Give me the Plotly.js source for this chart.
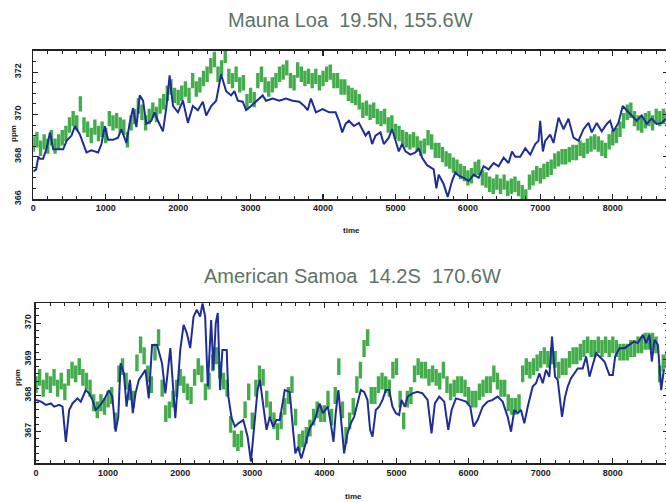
<!DOCTYPE html>
<html>
<head>
<meta charset="utf-8">
<script src="https://cdn.plot.ly/plotly-3.0.1.min.js"></script>
<style>
html,body{margin:0;padding:0;overflow:hidden;background:#fff;}
#chart{width:672px;height:502px;}
</style>
</head>
<body>
<div id="chart"></div>
<script>
// ---------- DATA ----------
const titleTop = "Mauna Loa  19.5N, 155.6W";
const titleBottom = "American Samoa  14.2S  170.6W";
const xTickVals = [0, 1000, 2000, 3000, 4000, 5000, 6000, 7000, 8000];
const yTickValsTop = [366, 368, 370, 372];
const yTickValsBottom = [367, 368, 369, 370];

// Mauna Loa - blue line (model)
const mlBlueT = [0,40,69,92,135,184,230,275,413,459,528,574,643,689,734,803,895,941,987,1033,1102,1170,1216,1285,1331,1377,1423,1469,1515,1561,1629,1675,1721,1790,1836,1882,1928,1997,2066,2134,2203,2272,2341,2387,2456,2525,2593,2662,2731,2777,2823,2892,2938,3006,3075,3167,3213,3305,3397,3488,3580,3672,3741,3787,3833,3902,3993,4085,4173,4219,4265,4311,4357,4426,4495,4541,4587,4632,4678,4724,4793,4839,4908,4954,5000,5046,5092,5138,5207,5276,5322,5368,5436,5482,5528,5565,5597,5666,5721,5781,5827,5873,5942,6011,6080,6149,6217,6286,6355,6424,6493,6562,6608,6654,6723,6792,6861,6930,6975,6998,7035,7067,7136,7182,7251,7320,7389,7458,7527,7596,7665,7710,7779,7848,7917,7963,8009,8078,8138,8193,8262,8331,8400,8469,8537,8606,8675,8735];
const mlBlueV = [367.3,367.4,368.0,367.9,367.9,368.4,369.15,368.35,368.35,368.75,369.0,369.45,369.05,368.6,368.2,368.3,368.2,368.6,369.45,368.8,368.8,368.9,369.3,368.65,369.6,370.3,369.4,370.9,370.65,369.55,369.7,370.1,369.7,369.2,370.3,371.85,370.4,370.1,370.65,369.6,370.4,370.2,370.6,369.95,370.4,370.65,371.9,371.1,370.9,371.1,370.65,370.6,370.2,370.4,370.6,370.9,370.65,370.75,370.65,370.75,370.65,370.6,370.4,370.2,370.75,370.1,370.25,370.1,370.1,369.7,369.15,369.55,369.7,369.45,369.6,369.3,369.0,369.2,368.6,369.0,369.15,368.6,368.9,369.3,368.75,368.25,368.6,368.25,368.1,368.2,368.4,367.95,367.6,367.5,367.4,366.5,367.15,366.7,366.1,366.85,367.25,367.1,367.0,366.85,367.15,367.0,367.55,367.4,367.7,367.55,367.95,367.7,368.25,368.0,368.0,368.4,368.1,368.6,368.75,369.7,368.25,368.75,369.05,368.65,369.85,369.3,369.8,368.9,368.75,369.3,369.6,369.15,369.6,369.2,369.55,369.7,369.2,369.6,370.4,370.2,369.95,369.7,369.95,369.55,369.8,369.55,369.6,369.8];

// Mauna Loa - green points (observations), every 50 h from 0
const mlGreenT = [0,50,100,150,200,250,300,350,400,450,500,550,600,650,700,750,800,850,900,950,1000,1050,1100,1150,1200,1250,1300,1350,1400,1450,1500,1550,1600,1650,1700,1750,1800,1850,1900,1950,2000,2050,2100,2150,2200,2250,2300,2350,2400,2450,2500,2550,2600,2650,2700,2750,2800,2850,2900,2950,3000,3050,3100,3150,3200,3250,3300,3350,3400,3450,3500,3550,3600,3650,3700,3750,3800,3850,3900,3950,4000,4050,4100,4150,4200,4250,4300,4350,4400,4450,4500,4550,4600,4650,4700,4750,4800,4850,4900,4950,5000,5050,5100,5150,5200,5250,5300,5350,5400,5450,5500,5550,5600,5650,5700,5750,5800,5850,5900,5950,6000,6050,6100,6150,6200,6250,6300,6350,6400,6450,6500,6550,6600,6650,6700,6750,6800,6850,6900,6950,7000,7050,7100,7150,7200,7250,7300,7350,7400,7450,7500,7550,7600,7650,7700,7750,7800,7850,7900,7950,8000,8050,8100,8150,8200,8250,8300,8350,8400,8450,8500,8550,8600,8650,8700,8750];
const mlGreenV = [368.6,368.8,368.4,368.7,368.5,368.9,368.5,368.7,368.9,369.1,369.5,369.8,369.6,370.5,369.5,369.3,369.0,369.4,369.1,369.3,369.0,369.8,369.6,369.7,369.5,369.4,368.8,369.6,369.9,370.4,370.1,369.6,369.9,370.2,370.0,370.4,370.6,371.0,371.3,370.9,370.8,371.0,371.2,370.9,371.6,371.2,371.4,371.7,371.9,372.3,372.6,371.9,372.2,372.8,371.8,371.6,371.9,371.4,371.5,370.6,370.9,370.7,371.6,371.9,371.4,371.2,371.4,371.6,371.9,372.0,372.2,371.6,371.5,372.1,371.9,371.7,371.8,371.6,371.8,371.5,371.7,371.9,372.0,371.6,371.6,371.3,371.3,371.0,370.9,370.8,370.6,370.2,370.3,370.1,370.2,369.9,369.8,369.9,369.5,369.6,369.2,369.1,368.9,368.8,368.7,368.8,368.6,368.4,368.5,368.9,368.7,368.3,368.3,368.1,367.9,367.8,367.6,367.5,367.3,367.2,367.0,367.1,367.4,367.5,367.0,366.9,366.7,366.6,366.8,366.6,366.8,366.5,366.6,366.7,366.5,366.3,366.1,366.8,367.0,367.2,367.1,367.3,367.4,367.5,367.8,367.9,368.0,368.0,368.1,368.2,368.2,368.4,368.3,368.5,368.6,368.7,368.6,368.4,368.3,368.7,368.9,369.0,369.3,369.7,370.1,370.2,369.8,369.6,369.5,369.7,369.8,369.6,369.9,369.8,369.9,369.8];

// American Samoa - blue line (model)
const smBlueT = [0,69,138,207,253,322,368,414,460,506,575,621,690,736,782,828,874,943,1012,1058,1104,1141,1173,1219,1256,1302,1343,1380,1426,1472,1518,1564,1610,1679,1748,1794,1863,1932,2001,2047,2093,2139,2185,2231,2277,2309,2346,2383,2429,2461,2493,2521,2553,2585,2645,2668,2714,2760,2806,2875,2935,2981,3027,3073,3105,3151,3197,3243,3289,3335,3381,3450,3519,3565,3597,3634,3680,3726,3795,3864,3933,3979,4048,4088,4126,4157,4194,4236,4273,4320,4366,4412,4458,4505,4551,4597,4634,4667,4713,4759,4806,4852,4898,4944,4991,5037,5069,5116,5153,5222,5292,5361,5431,5486,5532,5593,5662,5718,5764,5824,5894,5963,6023,6070,6125,6195,6264,6333,6403,6472,6542,6588,6634,6681,6727,6773,6820,6889,6935,6981,7028,7074,7120,7157,7199,7236,7268,7296,7338,7375,7421,7467,7514,7583,7630,7676,7722,7768,7814,7884,7953,8000,8033,8093,8162,8232,8292,8347,8417,8463,8509,8541,8579,8625,8671,8708];
const smBlueV = [367.88,367.83,367.74,367.78,367.69,367.74,367.69,366.72,367.6,367.78,367.92,367.83,368.15,368.06,367.88,367.6,367.69,367.88,368.15,367.97,367.0,367.41,368.89,368.61,367.69,368.43,367.51,368.06,368.43,368.57,368.71,367.92,369.4,369.4,368.89,368.06,369.31,367.37,369.26,369.95,369.72,369.31,370.18,370.37,370.18,370.55,370.18,368.25,370.09,368.71,370.0,370.28,368.15,369.26,369.26,367.97,367.37,367.14,367.23,367.32,366.86,366.17,367.23,368.15,368.43,367.69,367.05,367.41,367.14,367.32,367.32,368.15,368.1,367.05,366.4,366.58,366.26,366.58,367.09,367.32,367.78,367.51,367.69,367.23,366.72,367.51,368.15,367.23,366.4,366.95,367.23,367.41,367.78,368.15,368.1,367.88,367.05,366.86,367.6,367.69,367.88,368.15,368.15,367.69,367.51,367.46,367.88,367.69,367.97,368.06,368.1,368.06,367.88,366.95,367.78,367.97,367.83,367.05,367.6,367.92,367.88,367.83,367.69,367.14,367.32,367.69,367.83,367.88,367.97,367.83,367.41,367.0,367.6,367.51,367.6,367.23,367.69,368.25,368.34,368.61,368.34,368.71,368.52,369.63,368.52,368.43,367.88,367.41,367.97,368.25,368.48,368.61,368.75,368.75,369.08,368.52,368.85,369.17,369.08,368.94,368.57,368.57,369.08,369.31,369.31,369.4,369.49,369.45,369.68,369.45,369.68,368.94,369.54,369.4,368.15,368.71];

// American Samoa - green points (observations), every 50 h from 0
const smGreenT = mlGreenT;
const smGreenV = [368.3,368.5,368.2,368.4,368.3,368.5,368.2,368.4,368.1,368.5,368.7,368.6,368.8,368.5,368.4,368.2,367.8,367.6,367.8,367.7,367.9,368.0,367.3,368.6,368.8,368.4,368.1,367.9,368.9,369.4,369.1,368.6,368.3,369.2,369.6,368.2,367.5,367.6,367.9,368.2,368.5,368.3,368.1,368.0,368.5,368.8,368.6,368.1,368.4,368.9,369.1,368.7,368.4,368.2,367.2,366.8,366.7,366.8,367.6,368.1,367.3,368.2,368.6,368.5,367.9,367.6,367.3,367.0,367.3,367.7,368.0,368.3,367.4,366.7,366.8,366.9,367.1,367.4,367.6,367.5,367.5,367.9,367.4,368.0,368.8,367.6,366.9,367.3,367.7,368.3,368.7,369.3,369.6,368.0,368.0,368.3,368.4,368.3,368.2,368.7,368.8,367.9,367.3,367.9,368.0,368.6,368.8,368.7,368.7,368.5,368.6,368.5,368.4,368.7,368.3,368.1,368.2,368.3,368.3,368.2,368.0,367.9,367.9,368.1,368.2,368.3,368.3,368.6,368.4,368.2,368.2,367.8,367.7,367.7,367.8,368.6,368.8,368.7,368.8,368.9,369.0,369.1,369.0,369.1,369.0,368.7,368.8,368.8,369.0,369.1,369.1,369.2,369.3,369.4,369.3,369.3,369.4,369.3,369.4,369.3,369.4,369.3,369.2,369.2,369.2,369.3,369.3,369.4,369.4,369.5,369.5,369.5,369.4,368.6,368.9,369.0];

// ---------- STYLE ----------
const BLUE = "#1f2d96";
const GREEN = "#43ad4c";
const TXT = "#1a1a1a";
const TITLE_COL = "#5c7467";
const W = 672, H = 502;
const px = v => v / W;
const py = v => 1 - v / H;
const tickFont = {family: "Liberation Sans Narrow, Liberation Sans, Arial, sans-serif", size: 9, color: TXT, weight: "bold"};

function greenTrace(t, v, xa, ya, sz) {
  return {x: t, y: v, xaxis: xa, yaxis: ya, type: "scatter", mode: "markers",
    marker: {symbol: "line-ns-open", size: sz, color: GREEN, line: {color: GREEN, width: 3.4}},
    hoverinfo: "skip", showlegend: false};
}
function blueTrace(t, v, xa, ya) {
  return {x: t, y: v, xaxis: xa, yaxis: ya, type: "scatter", mode: "lines",
    line: {color: BLUE, width: 2}, hoverinfo: "skip", showlegend: false};
}

const data = [
  greenTrace(mlGreenT, mlGreenV, "x", "y", 11),
  blueTrace(mlBlueT, mlBlueV, "x", "y"),
  greenTrace(smGreenT, smGreenV, "x2", "y2", 12),
  blueTrace(smBlueT, smBlueV, "x2", "y2")
];

function xAxis(domain, anchor) {
  return {domain: domain, anchor: anchor, range: [0, 8760], tickvals: xTickVals,
    ticktext: xTickVals.map(String), ticks: "inside", ticklen: 5, tickwidth: 1.2, tickcolor: "#222",
    minor: {dtick: 200, tick0: 0, ticks: "inside", ticklen: 3, tickwidth: 1, tickcolor: "#222"},
    showline: true, linecolor: "#222", linewidth: 1.6, mirror: "ticks",
    showgrid: false, zeroline: false, tickfont: tickFont, fixedrange: true};
}
function yAxis(domain, anchor, range, vals, minorStep, standoff) {
  return {domain: domain, anchor: anchor, range: range, tickvals: vals,
    ticktext: vals.map(String), tickangle: -90, ticks: "inside", ticklen: 5, tickwidth: 1.2, tickcolor: "#222",
    minor: {dtick: minorStep, tick0: 366, ticks: "inside", ticklen: 3, tickwidth: 1, tickcolor: "#222"},
    showline: true, linecolor: "#222", linewidth: 1.6, mirror: "ticks", ticklabelstandoff: standoff,
    showgrid: false, zeroline: false, tickfont: tickFont, fixedrange: true};
}

const layout = {
  width: W, height: H,
  margin: {l: 0, r: 0, t: 0, b: 0},
  paper_bgcolor: "#fff", plot_bgcolor: "#fff",
  showlegend: false,
  xaxis: xAxis([px(33.3), px(667.8)], "y"),
  yaxis: yAxis([1 - 199 / H, 1 - 51 / H], "x", [366, 373], yTickValsTop, 0.5, 7),
  xaxis2: xAxis([px(36), px(667.6)], "y2"),
  yaxis2: yAxis([1 - 463.3 / H, 1 - 303.3 / H], "x2", [366.125, 370.55], yTickValsBottom, 0.2, 0),
  annotations: [
    {text: titleTop, xref: "paper", yref: "paper", x: px(350), y: py(20.5), xanchor: "center", yanchor: "middle",
     showarrow: false, font: {family: "Liberation Sans, Arial, sans-serif", size: 20, color: TITLE_COL}},
    {text: titleBottom, xref: "paper", yref: "paper", x: px(352), y: py(275.5), xanchor: "center", yanchor: "middle",
     showarrow: false, font: {family: "Liberation Sans, Arial, sans-serif", size: 20, color: TITLE_COL}},
    {text: "time", xref: "paper", yref: "paper", x: px(351), y: py(230), xanchor: "center", yanchor: "middle",
     showarrow: false, font: {family: "Liberation Sans Narrow, Liberation Sans, sans-serif", size: 8, color: TXT, weight: "bold"}},
    {text: "time", xref: "paper", yref: "paper", x: px(353), y: py(496), xanchor: "center", yanchor: "middle",
     showarrow: false, font: {family: "Liberation Sans Narrow, Liberation Sans, sans-serif", size: 8, color: TXT, weight: "bold"}},
    {text: "ppm", xref: "paper", yref: "paper", x: px(13), y: py(134), xanchor: "center", yanchor: "middle", textangle: -90,
     showarrow: false, font: {family: "Liberation Sans Narrow, Liberation Sans, sans-serif", size: 8, color: TXT, weight: "bold"}},
    {text: "ppm", xref: "paper", yref: "paper", x: px(17), y: py(378), xanchor: "center", yanchor: "middle", textangle: -90,
     showarrow: false, font: {family: "Liberation Sans Narrow, Liberation Sans, sans-serif", size: 8, color: TXT, weight: "bold"}}
  ]
};

Plotly.newPlot("chart", data, layout, {displayModeBar: false, staticPlot: true});
</script>
</body>
</html>
